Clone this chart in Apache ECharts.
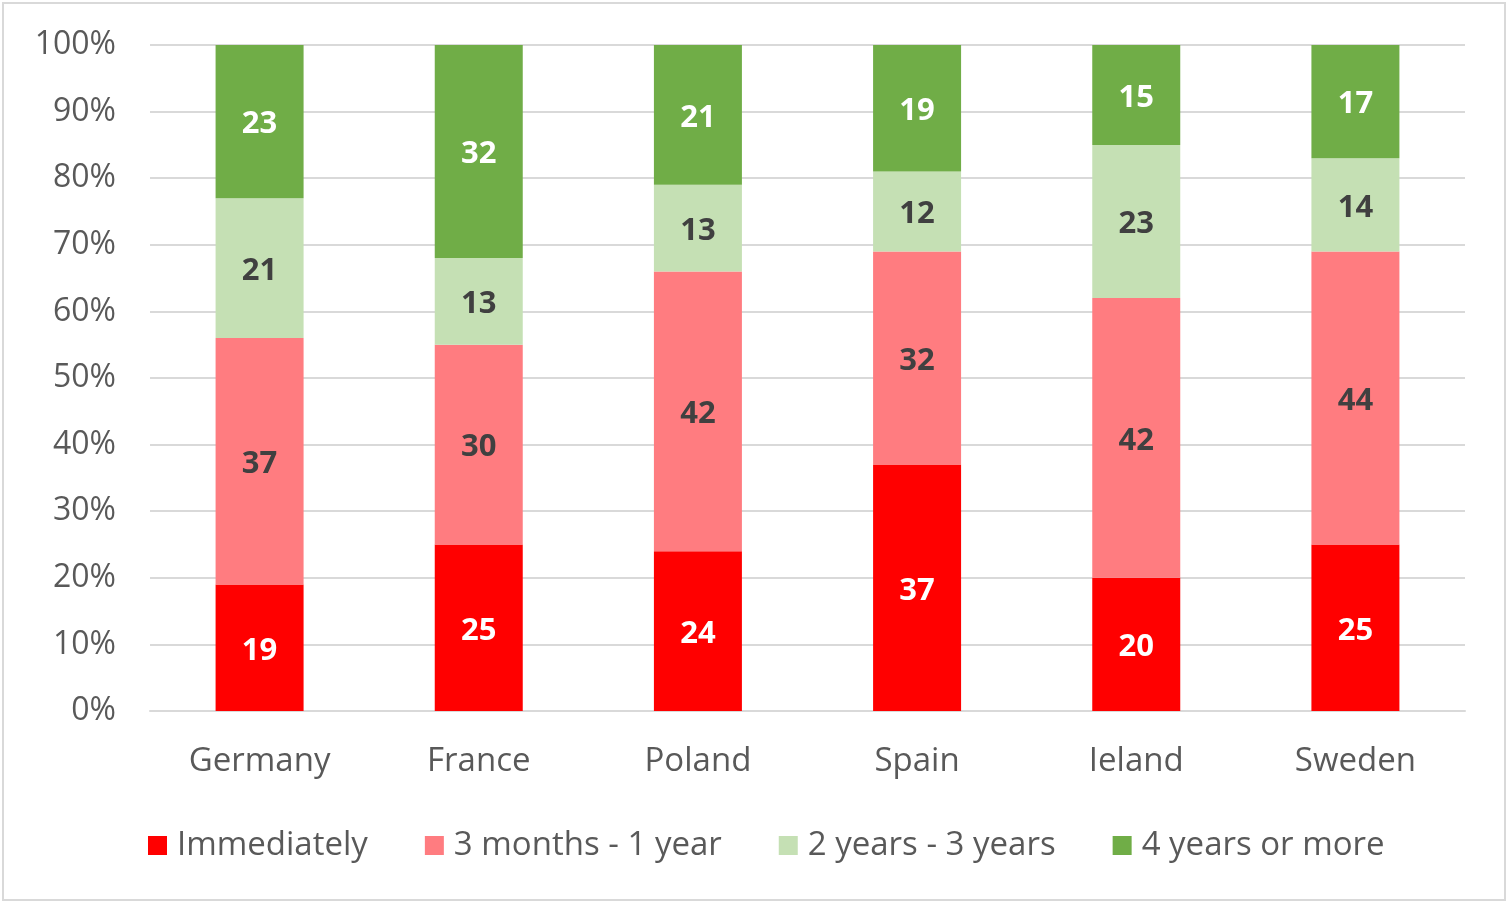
<!DOCTYPE html>
<html>
<head>
<meta charset="utf-8">
<script src="https://cdn.jsdelivr.net/npm/echarts@6/dist/echarts.min.js"></script>
<style>
  html, body { margin: 0; padding: 0; background: #fff; }
  #chart {
    position: absolute; left: 2px; top: 2px;
    width: 1504px; height: 899px;
    border: 2px solid #d9d9d9;
    box-sizing: border-box;
  }
</style>
</head>
<body>
<div id="chart"></div>
<script>
// countries and share (%) per answer
const countries = ['Germany', 'France', 'Poland', 'Spain', 'Ieland', 'Sweden'];
const immediately = [19, 25, 24, 37, 20, 25];
const months3to1y = [37, 30, 42, 32, 42, 44];
const years2to3 = [21, 13, 13, 12, 23, 14];
const years4plus = [23, 32, 21, 19, 15, 17];
const yTicks = [0, 10, 20, 30, 40, 50, 60, 70, 80, 90, 100];

const font = 'Open Sans';

function makeSeries(name, data, color, labelColor) {
  return {
    name: name,
    type: 'bar',
    stack: 'all',
    data: data,
    barWidth: 88,
    itemStyle: { color: color },
    label: {
      show: true,
      position: 'inside',
      offset: [0, 3],
      color: labelColor,
      fontFamily: font,
      fontWeight: 'bold',
      fontSize: 31
    }
  };
}

const chart = echarts.init(document.getElementById('chart'));
chart.setOption({
  animation: false,
  textStyle: { fontFamily: font },
  grid: { left: 146, right: 39, top: 41, bottom: 188, containLabel: false },
  legend: {
    left: 144,
    top: 825,
    padding: 0,
    itemWidth: 19,
    itemHeight: 19,
    itemGap: 57,
    icon: 'rect',
    textStyle: { color: '#595959', fontSize: 33, fontFamily: font, padding: [0, 0, 0, 5] },
    data: ['Immediately', '3 months - 1 year', '2 years - 3 years', '4 years or more']
  },
  xAxis: {
    type: 'category',
    data: countries,
    axisLine: { lineStyle: { color: '#d9d9d9', width: 2 } },
    axisTick: { show: false },
    axisLabel: { color: '#595959', fontSize: 33, margin: 34, fontFamily: font }
  },
  yAxis: {
    type: 'value',
    min: yTicks[0],
    max: yTicks[yTicks.length - 1],
    interval: 10,
    axisLine: { show: false },
    axisTick: { show: false },
    axisLabel: { color: '#595959', fontSize: 32, margin: 34, fontFamily: font, formatter: '{value}%' },
    splitLine: { lineStyle: { color: '#d9d9d9', width: 2 } }
  },
  series: [
    makeSeries('Immediately', immediately, '#ff0000', '#ffffff'),
    makeSeries('3 months - 1 year', months3to1y, '#ff7c80', '#404040'),
    makeSeries('2 years - 3 years', years2to3, '#c5e0b4', '#404040'),
    makeSeries('4 years or more', years4plus, '#70ad47', '#ffffff')
  ]
});
</script>
</body>
</html>
